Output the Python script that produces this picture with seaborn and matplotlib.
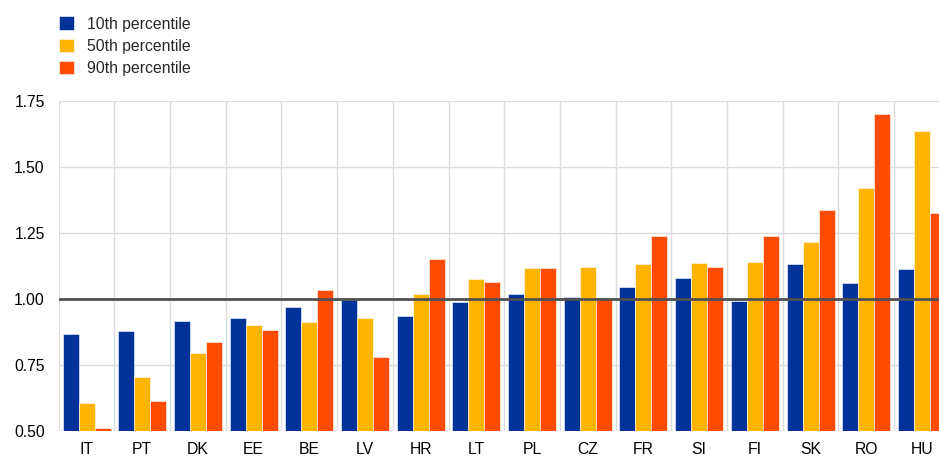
import pandas as pd
import matplotlib.pyplot as plt
import seaborn as sns

# Data
countries = ['IT', 'PT', 'DK', 'EE', 'BE', 'LV', 'HR', 'LT', 'PL', 'CZ', 'FR', 'SI', 'FI', 'SK', 'RO', 'HU']
p10 = [0.867, 0.877, 0.916, 0.929, 0.970, 0.995, 0.935, 0.988, 1.019, 1.008, 1.044, 1.078, 0.991, 1.133, 1.061, 1.114]
p50 = [0.607, 0.703, 0.795, 0.901, 0.911, 0.929, 1.017, 1.074, 1.118, 1.122, 1.133, 1.135, 1.140, 1.214, 1.420, 1.637]
p90 = [0.510, 0.612, 0.836, 0.881, 1.034, 0.781, 1.150, 1.065, 1.116, 1.000, 1.238, 1.120, 1.238, 1.335, 1.700, 1.324]
series_names = ['10th percentile', '50th percentile', '90th percentile']
colors = ['#003299', '#FFB400', '#FF4B00']
yticks = [0.5, 0.75, 1.0, 1.25, 1.5, 1.75]

# Long format for seaborn
rows = []
for name, vals in zip(series_names, [p10, p50, p90]):
    for c, v in zip(countries, vals):
        rows.append({'country': c, 'series': name, 'value': v})
df = pd.DataFrame(rows)

sns.set_style('white')
plt.rcParams['font.family'] = ['Liberation Sans', 'DejaVu Sans']

fig = plt.figure(figsize=(9.39, 4.57), dpi=100)
# axes runs a bit past the right edge, like the source image
ax = fig.add_axes([0.0625, 0.0569, 0.949, 0.7228])

sns.barplot(data=df, x='country', y='value', hue='series', order=countries,
            hue_order=series_names, palette=colors, saturation=1,
            width=0.862, gap=0, edgecolor='#ffffff', linewidth=0.4,
            ax=ax, zorder=2)

ax.set_ylim(0.5, 1.75)
ax.set_xlim(-0.5, len(countries) - 0.5)
ax.set_yticks(yticks)
ax.set_yticklabels([f'{t:.2f}' for t in yticks])
ax.set_xticks(range(len(countries)))
ax.set_xticklabels(countries)
ax.set_xticks([i - 0.5 for i in range(len(countries) + 1)], minor=True)

ax.grid(axis='y', which='major', color='#dcdcdc', linewidth=1, zorder=0)
ax.grid(axis='x', which='minor', color='#dcdcdc', linewidth=1, zorder=0)
ax.grid(axis='x', which='major', visible=False)
ax.set_axisbelow(True)
ax.axhline(1.0, color='#505050', linewidth=2, zorder=3)

ax.tick_params(axis='both', which='both', length=0, labelsize=11.3, colors='#000000')
ax.tick_params(axis='x', pad=8)
ax.tick_params(axis='y', pad=10)
for s in ax.spines.values():
    s.set_visible(False)
ax.set_xlabel('')
ax.set_ylabel('')

handles, labels = ax.get_legend_handles_labels()
ax.get_legend().remove()
fig.legend(handles, labels, loc='upper left', bbox_to_anchor=(0.051, 0.988),
           frameon=False, fontsize=11.3, handlelength=0.95, handleheight=0.95,
           handletextpad=0.85, labelspacing=0.45, borderaxespad=0.3)

plt.savefig('out.png', dpi=100)
